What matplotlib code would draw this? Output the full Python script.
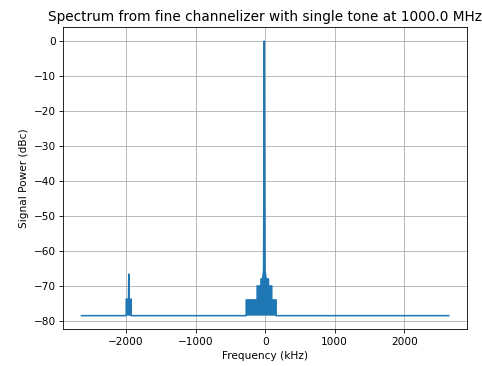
import matplotlib
matplotlib.use("Agg")
import matplotlib.pyplot as plt

# spectrum trace (kHz, dBc)
freq_khz = [-2640, -1997, -1997, -1964, -1960, -1956, -1925, -1925,
            -272, -272, -115, -115, -60, -60, -35, -22, -12, -2, 15, 48, 48,
            95, 95, 158, 158, 2640]
power_dbc = [-78.5, -78.5, -73.8, -73.8, -66.6, -73.8, -73.8, -78.5,
             -78.5, -74.0, -74.0, -70.0, -70.0, -68.0, -68.0, -65.5, 0.0, -65.5, -68.0, -68.0, -70.0,
             -70.0, -74.0, -74.0, -78.5, -78.5]
tone_mhz = 1000.0

fig, ax = plt.subplots(figsize=(6.4, 4.86), dpi=75.32)
ax.fill(freq_khz, power_dbc, color="C0", lw=0, zorder=2)
ax.plot(freq_khz, power_dbc, color="C0", zorder=2)
ax.set_title(f"Spectrum from fine channelizer with single tone at {tone_mhz:.1f} MHz", fontsize=13)
ax.set_xlabel("Frequency (kHz)")
ax.set_ylabel("Signal Power (dBc)")
ax.grid()
fig.subplots_adjust(left=0.131, right=0.969, bottom=0.100, top=0.925)
fig.savefig("out.png", dpi=75.32)
